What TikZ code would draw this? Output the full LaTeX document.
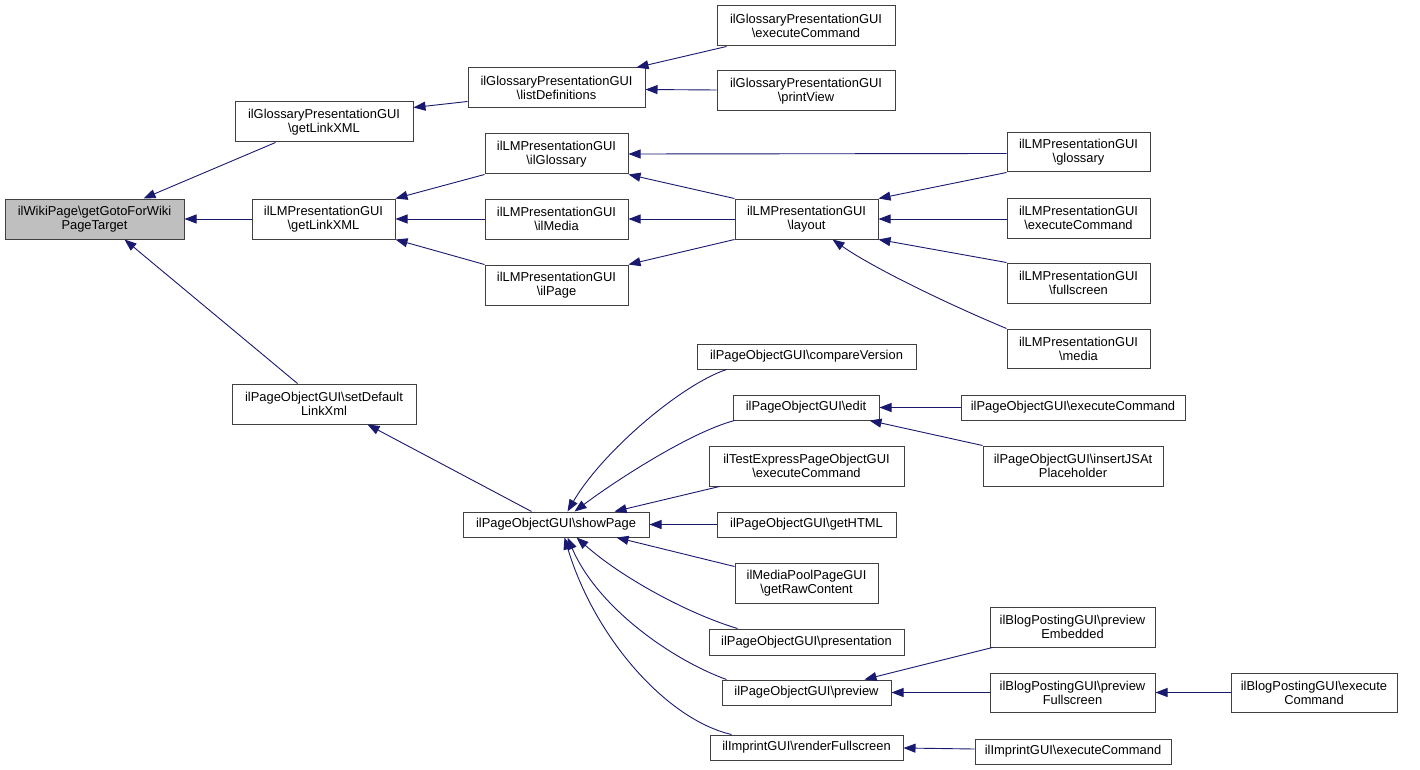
\documentclass[tikz,border=0pt]{standalone}
\usepackage{fontspec}
\setmainfont{Liberation Sans}
\usetikzlibrary{arrows.meta}
\definecolor{edgec}{RGB}{25,25,112}
\definecolor{boxc}{RGB}{64,64,64}
\definecolor{rootc}{RGB}{191,191,191}
\tikzset{
  box/.style={draw=boxc, line width=1pt, inner sep=0pt, align=center, font=\fontsize{12.9}{14}\selectfont},
  dep/.style={draw=edgec, line width=0.9pt, -{Triangle[length=12pt,width=9pt]}}
}
\newcommand\bs{\textbackslash}
\newcommand\bx[7][]{\node[box,#1,minimum width={(#4-#2)*1pt},minimum height={(#5-#3)*1pt}] (#6) at ({(#2+#4)/2},{(#3+#5)/2}) {#7};}
\begin{document}
\begin{tikzpicture}[x=1pt,y=-1pt]
\useasboundingbox[fill=white] (0,0) rectangle (1420,770);
\bx[fill=rootc]{5}{199}{184}{239}{root}{ilWikiPage\bs getGotoForWiki\\PageTarget}
\bx{235}{102}{413}{142}{ggl}{ilGlossaryPresentationGUI\\\bs getLinkXML}
\bx{252}{199}{395}{239}{lgl}{ilLMPresentationGUI\\\bs getLinkXML}
\bx{232}{384}{416}{424}{sdl}{ilPageObjectGUI\bs setDefault\\LinkXml}
\bx{468}{68}{645}{108}{ld}{ilGlossaryPresentationGUI\\\bs listDefinitions}
\bx{485}{134}{628}{174}{ilg}{ilLMPresentationGUI\\\bs ilGlossary}
\bx{485}{199}{628}{239}{ilm}{ilLMPresentationGUI\\\bs ilMedia}
\bx{485}{265}{628}{305}{ilp}{ilLMPresentationGUI\\\bs ilPage}
\bx{463}{512}{649}{537}{sp}{ilPageObjectGUI\bs showPage}
\bx{717}{6}{895}{46}{gec}{ilGlossaryPresentationGUI\\\bs executeCommand}
\bx{717}{71}{895}{111}{gpv}{ilGlossaryPresentationGUI\\\bs printView}
\bx{735}{199}{878}{239}{lay}{ilLMPresentationGUI\\\bs layout}
\bx{697}{344}{916}{369}{cv}{ilPageObjectGUI\bs compareVersion}
\bx{733}{395}{879}{420}{ed}{ilPageObjectGUI\bs edit}
\bx{709}{446}{904}{486}{te}{ilTestExpressPageObjectGUI\\\bs executeCommand}
\bx{717}{512}{896}{537}{gh}{ilPageObjectGUI\bs getHTML}
\bx{735}{563}{878}{603}{mp}{ilMediaPoolPageGUI\\\bs getRawContent}
\bx{709}{629}{904}{655}{pr}{ilPageObjectGUI\bs presentation}
\bx{722}{680}{891}{705}{pv}{ilPageObjectGUI\bs preview}
\bx{710}{735}{903}{760}{rf}{ilImprintGUI\bs renderFullscreen}
\bx{1007}{133}{1150}{172}{lg}{ilLMPresentationGUI\\\bs glossary}
\bx{1007}{198}{1150}{238}{lec}{ilLMPresentationGUI\\\bs executeCommand}
\bx{1007}{263}{1150}{303}{lfs}{ilLMPresentationGUI\\\bs fullscreen}
\bx{1007}{329}{1150}{368}{lme}{ilLMPresentationGUI\\\bs media}
\bx{961}{395}{1185}{420}{pec}{ilPageObjectGUI\bs executeCommand}
\bx{983}{446}{1163}{486}{ij}{ilPageObjectGUI\bs insertJSAt\\Placeholder}
\bx{990}{607}{1155}{647}{bpe}{ilBlogPostingGUI\bs preview\\Embedded}
\bx{990}{673}{1155}{712}{bpf}{ilBlogPostingGUI\bs preview\\Fullscreen}
\bx{1231}{673}{1397}{712}{bec}{ilBlogPostingGUI\bs execute\\Command}
\bx{975}{739}{1171}{764}{iec}{ilImprintGUI\bs executeCommand}
% edges
\draw[dep] ([xshift=41pt]ggl.south west) -- ([xshift=139pt]root.north west);
\draw[dep] (lgl.west) -- (root.east);
\draw[dep] ([xshift=66pt]sdl.north west) -- ([xshift=120pt]root.south west);
\draw[dep] ([shift={(0,34)}]ld.north west) -- ([shift={(0,6)}]ggl.north east);
\draw[dep] (ilg.south west) -- (lgl.north east);
\draw[dep] (ilm.west) -- (lgl.east);
\draw[dep] (ilp.north west) -- (lgl.south east);
\draw[dep] ([xshift=69pt]sp.north west) -- ([xshift=136pt]sdl.south west);
\draw[dep] ([xshift=10pt]gec.south west) -- ([xshift=169pt]ld.north west);
\draw[dep] ([shift={(0,-1)}]gpv.west) -- ([shift={(0,1.5)}]ld.east);
\draw[dep] ([shift={(0,1)}]lg.west) -- (ilg.east);
\draw[dep] (lay.north west) -- (ilg.south east);
\draw[dep] (lay.west) -- (ilm.east);
\draw[dep] (lay.south west) -- (ilp.north east);
\draw[dep] (lg.south west) -- (lay.north east);
\draw[dep] ([shift={(0,1)}]lec.west) -- (lay.east);
\draw[dep] (lfs.north west) -- (lay.south east);
\draw[dep] (lme.north west) .. controls +(-60,-25) and +(40,28) .. ([xshift=98pt]lay.south west);
\draw[dep] ([xshift=30pt]cv.south west) .. controls +(-45,15) and +(35,-60) .. ([xshift=105pt]sp.north west);
\draw[dep] ([xshift=2pt]ed.south west) .. controls +(-45,12) and +(40,-30) .. ([xshift=112pt]sp.north west);
\draw[dep] ([xshift=11pt]te.south west) -- ([xshift=152pt]sp.north west);
\draw[dep] (gh.west) -- (sp.east);
\draw[dep] ([shift={(0,4)}]mp.north west) -- ([xshift=154pt]sp.south west);
\draw[dep] ([xshift=29pt]pr.north west) .. controls +(-50,-15) and +(45,40) .. ([xshift=114pt]sp.south west);
\draw[dep] ([xshift=5pt]pv.north west) .. controls +(-55,-20) and +(30,70) .. ([xshift=105pt]sp.south west);
\draw[dep] ([xshift=22pt]rf.north west) .. controls +(-65,-15) and +(30,100) .. ([xshift=102pt]sp.south west);
\draw[dep] (pec.west) -- (ed.east);
\draw[dep] (ij.north west) -- ([xshift=137pt]ed.south west);
\draw[dep] ([xshift=3pt]bpe.south west) -- ([xshift=143pt]pv.north west);
\draw[dep] (bpf.west) -- (pv.east);
\draw[dep] (bec.west) -- (bpf.east);
\draw[dep] ([shift={(0,-2.5)}]iec.west) -- ([shift={(0,0.5)}]rf.east);
\end{tikzpicture}
\end{document}
